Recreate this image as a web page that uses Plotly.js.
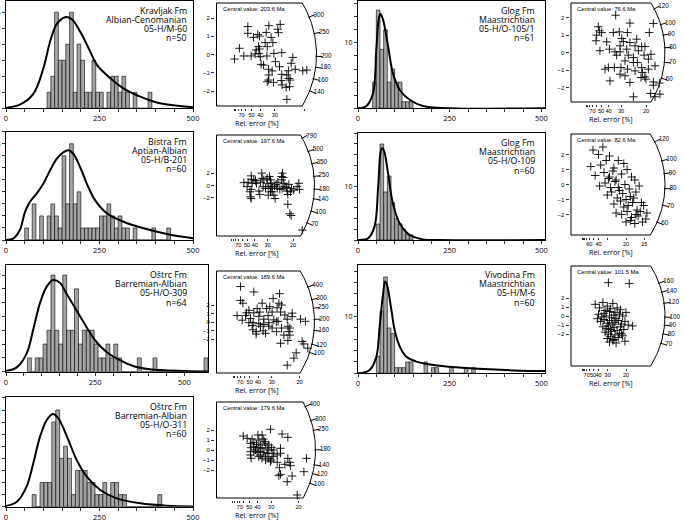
<!DOCTYPE html>
<html><head><meta charset="utf-8">
<script src="https://cdn.plot.ly/plotly-3.0.1.min.js"></script>
<style>html,body{margin:0;padding:0;background:#fff;}#plot{width:685px;height:520px;}</style>
</head><body><div id="plot"></div>
<script>
// ---------- DATA ----------
const formations = ['Kravljak Fm','Bistra Fm','Oštrc Fm','Oštrc Fm','Glog Fm','Glog Fm','Vivodina Fm'];
const stages = ['Albian-Cenomanian','Aptian-Albian','Barremian-Albian','Barremian-Albian','Maastrichtian','Maastrichtian','Maastrichtian'];
const samples = ['05-H/M-60','05-H/B-201','05-H/O-309','05-H/O-311','05-H/O-105/1','05-H/O-109','05-H/M-6'];
const grainCounts = [50,60,64,60,61,60,60];
const centralValues = [203.6,197.6,189.6,179.6,76.6,82.6,101.5];

// histogram bins (Ma) and counts
const binStarts = [110,50,60,70,40,50,50];
const binWidths = [10,10,11,10.5,10,10,10];
const counts1 = [1,2,6,3,3,4,6,1,4,3,1,1,3,1,1,0,1,2,2,1,2,1,0,1,0,0,0,1];
const counts2 = [1,0,3,0,2,0,2,3,2,1,7,3,8,3,4,1,1,1,1,1,2,2,3,2,1,2,1,1,0,1,0,0,0,0,1,0,0,0,1];
const counts3 = [1,0,1,1,2,3,7,3,2,7,3,3,6,2,3,3,3,2,1,1,2,1,2,1,0,0,0,0,1,0,0,0,1,0,0,0,0,0,0,0,0,0,0,0,0,1];
const counts4 = [1,0,2,2,2,7,8,4,5,4,1,3,3,3,2,2,1,1,2,1,2,2,1,1,0,0,0,0,0,0,0,0,1];
const counts5 = [4,15,9,12,4,6,4,4,1,1,1];
const counts6 = [3,18,9,12,7,4,3,2,1,1];
const counts7 = [3,11,17,8,7,1,1,1,2,2,0,0,0,2,0,1,1,0,0,0,1,0,0,0,1,0,1];

// density curves (age Ma, scaled density)
const curve1Age = [0,37,73,100,118,136,158,176,198,221,243,279,314,359,412,500];
const curve1Val = [0.04,0.23,0.9,2.5,4.17,5.27,5.69,5.56,4.79,3.75,2.71,1.88,1.25,0.73,0.31,0.06];
const curve2Age = [0,20,37,51,64,82,100,118,136,154,167,180,198,216,238,270,314,368,430,500];
const curve2Val = [0,0.14,0.83,2.34,3.17,3.86,4.69,5.8,6.76,7.31,7.45,7.17,6.07,4.69,3.31,2.21,1.52,0.97,0.5,0.14];
const curve3Age = [0,30,58,76,95,114,132,151,169,197,225,253,281,318,356,402,500,566];
const curve3Val = [0.05,0.31,1.33,3.02,4.95,6.16,6.64,6.45,5.68,4.47,3.26,2.17,1.45,0.85,0.41,0.17,0.05,0.02];
const curve4Age = [0,29,55,73,91,109,125,140,163,189,216,252,296,359,430,500];
const curve4Val = [0.06,0.41,1.66,3.59,5.8,7.17,7.67,7.31,5.8,3.86,2.48,1.38,0.69,0.28,0.08,0.02];
const curve5Age = [0,23,41,50,57,61,68,82,95,114,141,177,250,510];
const curve5Val = [0,0.36,2.3,9,13.8,14.4,13.6,9.5,5.4,2.8,1.3,0.36,0.02,0];
const curve6Age = [0,27,45,55,61,65,70,82,95,114,141,177,223,510];
const curve6Val = [0,0.3,2.5,10,16.25,17.2,16.9,12.5,6.9,3.1,0.94,0.12,0,0];
const curve7Age = [0,32,50,59,68,74,79,91,100,114,132,159,205,268,359,441,510];
const curve7Val = [0,0.6,2.9,8.2,13.8,16.2,15.6,11.2,7.6,4.7,2.9,2.06,1.47,1.06,0.7,0.47,0.4];

// radial plots: precision (1/rel. error) and standardised estimate
const rad1Prec = [1.79,2.99,3.64,1.79,2.36,2.84,3.5,3.54,2.11,2.46,3.12,2.78,3.22,2.4,2.9,2.46,1.31,2.27,2.21,2.42,2.88,3.28,3.73,1.98,2.5,1.56,1.03,4.36,3.37,2.55,2.69,3.6,4.27,4.5,4.93,5.16,2.97,3.18,4.11,2.99,3.73,4.02,2.97,3.26,2.9,3.7,4.13,4.21,3.75,3.98,4.17,4.02];
const rad1Std  = [1.53,1.58,1.65,1.16,1.1,1.21,1.38,1.2,0.94,1.01,0.94,0.65,0.65,0.43,0.43,0.3,0.34,0.25,0.03,0.06,-0.08,0.06,0.1,-0.08,-0.12,-0.08,-0.25,-0.16,-0.39,-0.54,-0.58,-0.67,-0.48,-0.81,-0.89,-0.85,-0.81,-0.9,-0.89,-1.12,-1.09,-1.12,-1.4,-1.53,-1.49,-1.43,-1.31,-1.4,-1.67,-1.8,-1.76,-2.46];
const rad2Prec = [1.79,2.07,2.27,2.29,2.44,2.55,2.96,3.09,3.31,3.46,3.53,3.57,3.64,3.9,4.01,4.31,4.36,4.4,4.73,4.84,5.27,5.38,5.42,4.58,3.64,3.75,3.83,3.38,3.53,2.77,2.83,2.27,2.18,2.22,2.27,2.61,2.88,3.2,4.14,3.97,4.29,4.47,4.62,4.66,4.9,5.05,4.25,4.27,4.66,4.79,4.88,5.6,3.42,3.57,3.05,2.0,3.79,3.31,2.33,2.98];
const rad2Std  = [0.47,0.53,1.58,1.03,0.92,0.81,2.03,0.92,1.19,1.47,0.92,0.36,-0.19,0.19,0.53,2.03,1.31,0.36,0.19,-1.03,-0.19,0.36,-0.64,-0.31,-1.03,-1.58,-2.14,-1.58,-1.03,-0.92,-1.47,-0.64,-1.03,-1.86,-2.14,0.36,0.53,-0.47,-0.64,-0.47,-0.47,-0.19,-0.92,-1.47,-0.47,-0.75,1.47,0.92,-3.08,-4.64,-4.92,-7.3,-0.19,-0.47,-0.19,-0.19,-0.08,0.36,0.36,1.19];
const rad3Prec = [1.45,2.25,3.8,1.45,1.59,2.75,3.41,3.76,3.92,3.21,1.95,2.45,3.01,3.65,1.24,1.81,2.25,2.61,3.11,3.35,3.86,4.12,4.56,4.56,5.06,5.36,2.05,2.55,2.85,3.45,3.71,4.26,1.55,2.21,2.55,3.15,3.61,4.3,4.42,2.15,2.65,2.19,2.39,2.81,3.35,3.92,2.39,2.95,3.61,4.36,4.42,4.3,3.86,5.16,5.26,5.5,4.8,4.66,4.26,3.15,1.95,1.75,4.06,2.85];
const rad3Std  = [4.17,3.54,3.33,2.54,2.21,2.21,2.75,2.21,2.0,1.79,1.38,1.58,1.58,1.67,0.75,1.08,1.08,1.17,0.75,1.17,1.17,0.83,1.04,0.63,0.33,0.08,0.42,0.67,0.33,0.25,0.08,0.33,0.21,-0.08,-0.21,-0.08,0.04,-0.5,-0.71,-0.42,-0.5,-0.92,-1.13,-1.04,-0.71,-0.71,-1.42,-1.33,-1.13,-1.13,-1.54,-2.17,-2.5,-2.29,-2.58,-3.08,-3.63,-4.25,-5.08,-0.5,-0.08,0.75,-1.54,-0.29];
const rad4Prec = [1.63,1.87,2.17,2.52,2.78,2.85,3.29,4.0,4.35,2.58,2.93,2.07,2.28,2.44,2.68,2.99,3.19,2.11,2.58,2.78,3.09,3.35,2.07,2.28,2.68,2.89,3.19,3.39,2.07,2.11,2.58,2.78,2.99,3.19,3.29,3.46,3.7,3.9,3.9,4.35,4.47,4.51,4.17,3.84,3.8,3.9,4.61,4.31,5.49,5.33,4.92,2.38,3.09,2.68,3.5,2.99,3.33,2.28,3.7,2.48];
const rad4Std  = [1.4,1.17,1.1,1.5,1.5,1.1,2.07,1.6,1.27,1.0,0.83,0.67,0.77,0.57,0.5,0.67,0.5,0.23,0.23,0.17,0.23,0.23,-0.17,-0.17,-0.17,-0.27,0.0,-0.33,-0.5,-0.83,-0.67,-0.83,-1.0,-0.83,-1.17,-0.67,-0.5,0.17,-0.33,-0.83,-1.23,-1.57,-1.43,-1.77,-2.57,-2.43,-2.6,-3.17,-0.83,-2.17,-4.5,0.0,-0.33,-0.5,0.0,-0.67,-1.0,0.33,-1.23,-0.23];
const rad5Prec = [2.98,1.82,1.89,2.04,1.67,3.22,3.76,3.93,5.22,5.49,3.38,3.49,3.93,4.27,2.38,2.56,2.93,3.27,3.71,3.82,4.16,4.71,4.93,4.87,5.33,1.93,3.04,4.42,4.71,5.16,5.6,3.6,4.16,2.49,2.89,3.33,3.76,3.27,4.27,4.76,4.67,4.93,5.0,2.6,5.49,5.49,5.89,4.16,5.31,5.6,5.93,3.27,2.27,4.49,3.93,2.82,1.71,3.6,5.16,4.38];
const rad5Std  = [2.13,1.47,1.24,1.14,0.67,1.18,1.14,1.68,1.14,1.66,0.8,0.63,0.57,0.38,0.61,0.19,0.04,0.04,0.19,-0.15,-0.29,0.34,0.34,-0.15,-0.1,0.1,-0.15,-0.57,-0.86,-0.95,-0.76,-0.48,-0.57,-0.86,-0.86,-0.86,-0.95,-1.24,-1.05,-1.14,-1.43,-1.39,-1.52,-1.62,-1.68,-1.87,-1.75,-2.53,-2.34,-2.53,-2.38,0.38,-0.95,0.1,-1.71,1.14,0.99,-1.33,-0.38,0.76];
const rad6Prec = [2.0,2.5,2.9,3.2,1.8,2.7,3.5,3.9,4.3,4.8,2.2,3.0,3.4,3.8,4.1,4.6,5.1,5.5,2.6,3.1,3.6,4.0,4.4,4.9,5.3,5.8,6.2,3.3,3.7,4.2,4.7,5.0,5.4,5.9,6.4,3.9,4.5,4.8,5.2,5.6,6.0,6.6,4.1,4.6,5.1,5.5,5.9,6.3,6.8,5.0,5.4,5.8,6.1,6.5,3.5,4.3,5.7,6.9];
const rad6Std  = [2.3,2.0,2.5,1.6,1.2,1.3,1.9,1.1,1.6,1.4,0.6,0.8,0.4,0.9,0.3,0.7,1.0,0.5,-0.1,0.1,-0.2,0.2,-0.4,0.0,-0.3,0.3,-0.1,-0.7,-0.5,-0.9,-0.6,-1.0,-0.8,-0.5,-1.2,-1.3,-1.1,-1.5,-1.4,-1.2,-1.7,-1.4,-1.9,-2.0,-1.8,-2.2,-2.0,-1.8,-2.3,-2.5,-2.4,-2.6,-2.1,-2.5,0.5,-0.2,-0.9,-1.9];
const rad7Prec = [3.4,5.3,2.2,2.6,2.9,3.1,3.3,3.6,3.8,4.0,4.2,4.5,2.5,2.8,3.0,3.2,3.5,3.7,3.9,4.1,4.4,4.7,5.0,2.7,3.0,3.3,3.5,3.8,4.0,4.3,4.6,4.9,5.2,2.9,3.2,3.4,3.6,3.9,4.2,4.5,4.8,3.1,3.4,3.7,4.0,4.4,4.7,3.3,3.6,3.9,4.3,4.6,3.5,3.8,4.1,2.4,5.6,4.9];
const rad7Std  = [3.7,3.6,1.3,0.9,1.5,0.6,1.1,0.8,1.4,0.4,0.9,0.7,0.2,-0.1,0.3,0.0,0.5,-0.2,0.1,-0.3,0.2,0.0,0.4,-0.6,-0.4,-0.8,-0.5,-0.9,-0.7,-0.5,-0.9,-0.6,-1.0,-1.2,-1.4,-1.1,-1.5,-1.3,-1.6,-1.2,-1.5,-1.8,-2.0,-1.7,-2.1,-1.9,-2.2,-2.5,-2.3,-2.6,-2.4,-2.0,-2.9,-2.7,-3.0,-0.3,-1.1,-2.8];

// radial-scale tick values
const arcTicks1 = [300,250,200,180,160,140];
const arcTicks2 = [790,500,350,250,180,140,100,70];
const arcTicks3 = [400,300,250,200,160,120,100];
const arcTicks4 = [400,300,250,180,140,120,100];
const arcTicks5 = [120,100,90,80,70,60];
const arcTicks6 = [120,100,90,80,70,60];
const arcTicks7 = [160,140,120,100,90,80,70];
const relErrTicks = [100,90,80,70,60,50,40,30,20];
const relErrTicks6 = [100,90,80,70,60,50,40,30,20,15];
const relErrLabels1 = [70,50,40,30];
const relErrLabels = [70,50,40,30,20];
const relErrLabels6 = [60,40,20,15];
const stdTicks = [-2,-1,0,1,2];
const stdTicksSparse = [-2,0,2];

// ---------- LAYOUT / BUILD ----------
const W=685,H=520;
const dx=(a,b)=>[a/W,b/W];
const dy=(t,b)=>[1-b/H,1-t/H];
const FONT='Open Sans, sans-serif';
const SMALL='Liberation Sans, Arial, sans-serif';
const BLACK='#000000';
const traces=[];
const layout={width:W,height:H,margin:{l:0,r:0,t:0,b:0},showlegend:false,paper_bgcolor:'#ffffff',plot_bgcolor:'rgba(0,0,0,0)',font:{family:FONT,color:BLACK,size:7},annotations:[]};

const histGeom=[
 {x:[6,193],xr:[0,500],y:[1,108.3],yr:[0,6.7],dt:1,lab:6},
 {x:[6,193],xr:[0,500],y:[131.7,240],yr:[0,9.0],dt:1,lab:8},
 {x:[6,208],xr:[0,566],y:[265,371.7],yr:[0,7.73],dt:1,lab:7},
 {x:[6,193],xr:[0,500],y:[396.7,506.7],yr:[0,9.1],dt:1,lab:8},
 {x:[358,545],xr:[0,510],y:[1,108.3],yr:[0,16.4],dt:2,lab:10},
 {x:[358,545],xr:[0,510],y:[133.3,240],yr:[0,20],dt:2,lab:10},
 {x:[358,545],xr:[0,510],y:[265,373.3],yr:[0,19.1],dt:2,lab:10}
];
const textRight=[189,189,189,189,537,537,537];
const histCounts=[counts1,counts2,counts3,counts4,counts5,counts6,counts7];
const curveAges=[curve1Age,curve2Age,curve3Age,curve4Age,curve5Age,curve6Age,curve7Age];
const curveVals=[curve1Val,curve2Val,curve3Val,curve4Val,curve5Val,curve6Val,curve7Val];
const histTickVals=[0,50,100,150,200,250,300,350,400,450,500];
const histTickText=['0','','','','','250','','','','','500'];

const radGeom=[
 {x0:216.5,yc:54.5,hh:51.5,R:100,sx:17.5,sy:18.25},
 {x0:216.5,yc:185.5,hh:50.5,R:98,sx:15.3,sy:6.1},
 {x0:216.5,yc:322,hh:51,R:98,sx:16.6,sy:8.5},
 {x0:216.5,yc:450,hh:48,R:99,sx:16.4,sy:10},
 {x0:571,yc:52.5,hh:49.5,R:94,sx:15,sy:17.5},
 {x0:571,yc:184.5,hh:50.5,R:94,sx:11,sy:15},
 {x0:571,yc:316,hh:50,R:94,sx:11,sy:9}
];
const radPrec=[rad1Prec,rad2Prec,rad3Prec,rad4Prec,rad5Prec,rad6Prec,rad7Prec];
const radStd=[rad1Std,rad2Std,rad3Std,rad4Std,rad5Std,rad6Std,rad7Std];
const arcTicks=[arcTicks1,arcTicks2,arcTicks3,arcTicks4,arcTicks5,arcTicks6,arcTicks7];
const errTicks=[relErrTicks,relErrTicks,relErrTicks,relErrTicks,relErrTicks,relErrTicks6,relErrTicks];
const errLabels=[relErrLabels1,relErrLabels,relErrLabels,relErrLabels,relErrLabels,relErrLabels6,relErrLabels];
const yTickSets=[stdTicks,stdTicksSparse,stdTicks,stdTicks,stdTicks,stdTicks,stdTicks];

function ids(n){const s=n===1?'':String(n);return {xa:'x'+s,ya:'y'+s,xk:'xaxis'+s,yk:'yaxis'+s};}

// histograms
histGeom.forEach((g,i)=>{
  const id=ids(2*i+1);
  const yv=[],yt=[];
  for(let v=0;v<=g.yr[1];v+=g.dt){yv.push(v);yt.push(v===g.lab?String(v):'');}
  layout[id.xk]={domain:dx(g.x[0],g.x[1]),range:g.xr,anchor:id.ya,showline:true,mirror:true,linecolor:BLACK,linewidth:1,
    ticks:'outside',ticklen:3,tickwidth:0.8,tickcolor:BLACK,tickvals:histTickVals,ticktext:histTickText,tickangle:0,
    tickfont:{size:7.5,color:BLACK},showgrid:false,zeroline:false,fixedrange:true};
  layout[id.yk]={domain:dy(g.y[0],g.y[1]),range:g.yr,anchor:id.xa,showline:true,mirror:true,linecolor:BLACK,linewidth:1,
    ticks:'outside',ticklen:3,tickwidth:0.8,tickcolor:BLACK,tickvals:yv,ticktext:yt,tickfont:{size:7,color:BLACK},
    showgrid:false,zeroline:false,fixedrange:true};
  const c=histCounts[i];
  traces.push({type:'bar',xaxis:id.xa,yaxis:id.ya,x:c.map((_,k)=>binStarts[i]+(k+0.5)*binWidths[i]),y:c,width:binWidths[i],
    marker:{color:'#a4a4a4',line:{color:BLACK,width:0.6}},cliponaxis:true,hoverinfo:'skip'});
  traces.push({type:'scatter',mode:'lines',xaxis:id.xa,yaxis:id.ya,x:curveAges[i],y:curveVals[i],
    line:{color:BLACK,width:2,shape:'spline',smoothing:1},hoverinfo:'skip'});
  const lines=[formations[i],stages[i],samples[i],'n='+grainCounts[i]];
  const offs=[10,19,28,37.5];
  lines.forEach((t,k)=>layout.annotations.push({xref:'paper',yref:'paper',x:textRight[i]/W,y:1-(g.y[0]+offs[k])/H,
    xanchor:'right',yanchor:'middle',showarrow:false,text:t,font:{size:8.8,family:FONT,color:BLACK}}));
});

// radial plots
radGeom.forEach((g,i)=>{
  const id=ids(2*i+2);
  const pad=1.5;
  const xEnd=Math.min(g.x0+g.R+30,684);
  layout[id.xk]={domain:dx(g.x0-pad,xEnd),range:[-pad/g.sx,(xEnd-g.x0)/g.sx],anchor:id.ya,showline:false,showgrid:false,zeroline:false,
    ticks:'outside',ticklen:2,tickwidth:0.8,tickcolor:BLACK,tickvals:errTicks[i].map(e=>100/e),tickangle:0,ticklabelstandoff:0,
    ticktext:errTicks[i].map(e=>errLabels[i].includes(e)?String(e):''),tickfont:{size:5.6,color:BLACK,family:SMALL},fixedrange:true};
  layout[id.yk]={domain:dy(g.yc-g.hh-pad,g.yc+g.hh+pad),range:[-(g.hh+pad)/g.sy,(g.hh+pad)/g.sy],anchor:id.xa,showline:false,showgrid:false,zeroline:false,
    ticks:'outside',ticklen:3,tickwidth:0.8,tickcolor:BLACK,tickvals:yTickSets[i],tickfont:{size:6,color:BLACK,family:SMALL},fixedrange:true};
  const th=Math.asin(g.hh/g.R);
  const fx=[g.R*Math.cos(th),0,0,g.R*Math.cos(th)],fy=[g.hh,g.hh,-g.hh,-g.hh];
  for(let k=0;k<=48;k++){const a=-th+2*th*k/48;fx.push(g.R*Math.cos(a));fy.push(g.R*Math.sin(a));}
  traces.push({type:'scatter',mode:'lines',xaxis:id.xa,yaxis:id.ya,x:fx.map(v=>v/g.sx),y:fy.map(v=>v/g.sy),
    line:{color:BLACK,width:1},hoverinfo:'skip'});
  const t0=centralValues[i];
  const ang=arcTicks[i].map(t=>Math.atan(Math.log(t/t0)*g.sy/g.sx));
  const rt=g.R+2.5, rl=g.R+4.5;
  traces.push({type:'scatter',mode:'markers',xaxis:id.xa,yaxis:id.ya,cliponaxis:false,
    x:ang.map(a=>rt*Math.cos(a)/g.sx),y:ang.map(a=>rt*Math.sin(a)/g.sy),
    marker:{symbol:'line-ew',size:5,color:BLACK,angle:ang.map(a=>-a*180/Math.PI),line:{color:BLACK,width:1}},hoverinfo:'skip'});
  traces.push({type:'scatter',mode:'text',xaxis:id.xa,yaxis:id.ya,cliponaxis:false,
    x:ang.map(a=>rl*Math.cos(a)/g.sx),y:ang.map(a=>rl*Math.sin(a)/g.sy),text:arcTicks[i].map(String),
    textposition:'middle right',textfont:{size:6.3,family:SMALL,color:BLACK},hoverinfo:'skip'});
  traces.push({type:'scatter',mode:'markers',xaxis:id.xa,yaxis:id.ya,cliponaxis:false,x:radPrec[i],y:radStd[i],
    marker:{symbol:'cross-thin',size:6,color:BLACK,line:{color:BLACK,width:0.9}},hoverinfo:'skip'});
  layout.annotations.push({xref:'paper',yref:'paper',x:(g.x0+4)/W,y:1-(g.yc-g.hh+6)/H,xanchor:'left',yanchor:'middle',
    showarrow:false,text:'Central value: '+t0+' Ma',font:{size:5.8,family:SMALL,color:BLACK}});
  layout.annotations.push({xref:'paper',yref:'paper',x:(g.x0+40)/W,y:1-Math.min(g.yc+g.hh+17,516)/H,xanchor:'center',yanchor:'middle',
    showarrow:false,text:'Rel. error [%]',font:{size:7.2,family:FONT,color:BLACK}});
});

Plotly.newPlot('plot',traces,layout,{staticPlot:true,displayModeBar:false});
</script></body></html>
